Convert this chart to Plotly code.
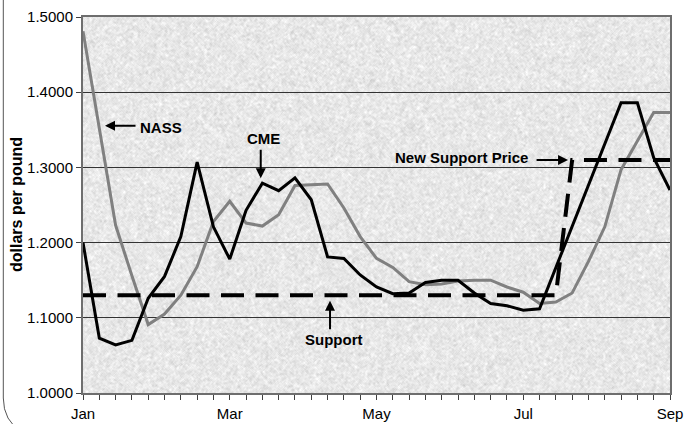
import base64
import struct
import zlib

import numpy as np
import plotly.graph_objects as go

# Weekly price series, January through September
weeks = list(range(37))
month_ticks = {0: "Jan", 9: "Mar", 18: "May", 27: "Jul", 36: "Sep"}

cme = [1.200, 1.073, 1.064, 1.070, 1.126, 1.155, 1.208, 1.307, 1.221, 1.178,
       1.243, 1.279, 1.269, 1.286, 1.257, 1.181, 1.179, 1.157, 1.141, 1.132,
       1.133, 1.147, 1.150, 1.150, 1.133, 1.119, 1.116, 1.110, 1.112, 1.167,
       1.222, 1.277, 1.331, 1.386, 1.386, 1.313, 1.270]

nass = [1.481, 1.350, 1.223, 1.156, 1.091, 1.105, 1.130, 1.168, 1.228, 1.255,
        1.226, 1.222, 1.237, 1.276, 1.277, 1.278, 1.246, 1.208, 1.179, 1.167,
        1.148, 1.144, 1.145, 1.149, 1.150, 1.150, 1.141, 1.134, 1.119, 1.121,
        1.133, 1.175, 1.221, 1.297, 1.335, 1.373, 1.373]

support = [1.13] * 30 + [1.31] * 7

y_ticks = [1.0, 1.1, 1.2, 1.3, 1.4, 1.5]

FONT = "Liberation Sans, Arial, sans-serif"

# Canvas / plot-area geometry in pixels
W, H = 686, 424
L, R, T, B = 83, 16, 17, 31
PW, PH = W - L - R, H - T - B


def granite_texture(w, h):
    """Light gray speckled fill for the plot area."""
    rng = np.random.default_rng(11)
    fine = rng.normal(size=(h, w))
    blur = np.zeros_like(fine)
    for dy in (-1, 0, 1):
        for dx in (-1, 0, 1):
            blur += np.roll(np.roll(fine, dy, 0), dx, 1)
    blur /= blur.std()
    img = 232 + 4.5 * blur + 3.5 * fine
    return np.clip(img, 0, 255).astype(np.uint8)


def png_uri(arr):
    h, w = arr.shape
    raw = b"".join(b"\x00" + arr[r].tobytes() for r in range(h))

    def chunk(tag, data):
        return (struct.pack(">I", len(data)) + tag + data
                + struct.pack(">I", zlib.crc32(tag + data) & 0xFFFFFFFF))

    png = (b"\x89PNG\r\n\x1a\n"
           + chunk(b"IHDR", struct.pack(">IIBBBBB", w, h, 8, 0, 0, 0, 0))
           + chunk(b"IDAT", zlib.compress(raw, 9))
           + chunk(b"IEND", b""))
    return "data:image/png;base64," + base64.b64encode(png).decode()


def px_x(px):
    return (px - L) / PW


def px_y(py):
    return (H - B - py) / PH


fig = go.Figure()

fig.add_trace(go.Scatter(x=weeks, y=nass, mode="lines", name="NASS",
                         line=dict(color="#808080", width=3)))
fig.add_trace(go.Scatter(x=weeks, y=cme, mode="lines", name="CME",
                         line=dict(color="#000000", width=3)))
fig.add_trace(go.Scatter(x=weeks, y=support, mode="lines", name="Support",
                         line=dict(color="#000000", width=4, dash="23px,11.5px")))

bold = dict(family=FONT, size=15, color="#000000")

annotations = [
    # labels
    dict(x=4.79, y=1.353, text="<b>NASS</b>", showarrow=False, font=bold),
    dict(x=11.04, y=1.339, text="<b>CME</b>", showarrow=False, font=bold),
    dict(x=23.2, y=1.3138, text="<b>New Support Price</b>", showarrow=False, font=bold),
    dict(x=15.4, y=1.0705, text="<b>Support</b>", showarrow=False, font=bold),
    # pointers
    dict(x=1.35, y=1.3554, ax=32, ay=0, text="", showarrow=True),
    dict(x=10.9, y=1.2855, ax=0, ay=-30, text="", showarrow=True),
    dict(x=29.75, y=1.3098, ax=-33, ay=0, text="", showarrow=True),
    dict(x=15.15, y=1.1227, ax=0, ay=30, text="", showarrow=True),
]
for a in annotations:
    a.update(xref="x", yref="y", xanchor="center", yanchor="middle")
    if a["showarrow"]:
        a.update(arrowhead=2, arrowsize=1, arrowwidth=2, arrowcolor="#000000",
                 axref="pixel", ayref="pixel")

annotations.append(dict(
    xref="paper", yref="paper", x=px_x(16), y=0.5, text="<b>dollars per pound</b>",
    textangle=-90, showarrow=False, xanchor="center", yanchor="middle",
    font=dict(family=FONT, size=16, color="#000000")))

fig.update_layout(
    width=W, height=H,
    margin=dict(l=L, r=R, t=T, b=B, pad=0, autoexpand=False),
    paper_bgcolor="#ffffff",
    plot_bgcolor="#e6e6e6",
    showlegend=False,
    font=dict(family=FONT, size=15, color="#000000"),
    annotations=annotations,
    images=[dict(source=png_uri(granite_texture(PW, PH)), xref="paper", yref="paper",
                 x=0, y=1, sizex=1, sizey=1, sizing="stretch", xanchor="left",
                 yanchor="top", layer="below")],
    shapes=[dict(type="path", xref="paper", yref="paper",
                 path=(f"M {px_x(3.3)},{px_y(-5)} L {px_x(3.3)},{px_y(398)} "
                       f"Q {px_x(3.3)},{px_y(421)} {px_x(22)},{px_y(432)}"),
                 line=dict(color="#555555", width=1))],
)

fig.update_xaxes(
    range=[0, 36], tickmode="array", tickvals=weeks,
    ticktext=[month_ticks.get(w, "") for w in weeks],
    ticks="outside", ticklen=5, tickwidth=1, tickcolor="#404040",
    ticklabelstandoff=1, automargin=False,
    showgrid=False, zeroline=False,
    showline=True, linecolor="#6e6e6e", linewidth=2, mirror=True,
    tickfont=dict(family=FONT, size=15, color="#000000"),
)
fig.update_yaxes(
    range=[1.0, 1.5], tickmode="array", tickvals=y_ticks,
    ticktext=[f"{v:.4f}" for v in y_ticks], automargin=False,
    ticks="outside", ticklen=5, tickwidth=1, tickcolor="#404040",
    showgrid=True, gridcolor="#333333", gridwidth=1, zeroline=False,
    showline=True, linecolor="#6e6e6e", linewidth=2, mirror=True,
    tickfont=dict(family=FONT, size=15, color="#000000"),
)

fig.write_html("out.html")
